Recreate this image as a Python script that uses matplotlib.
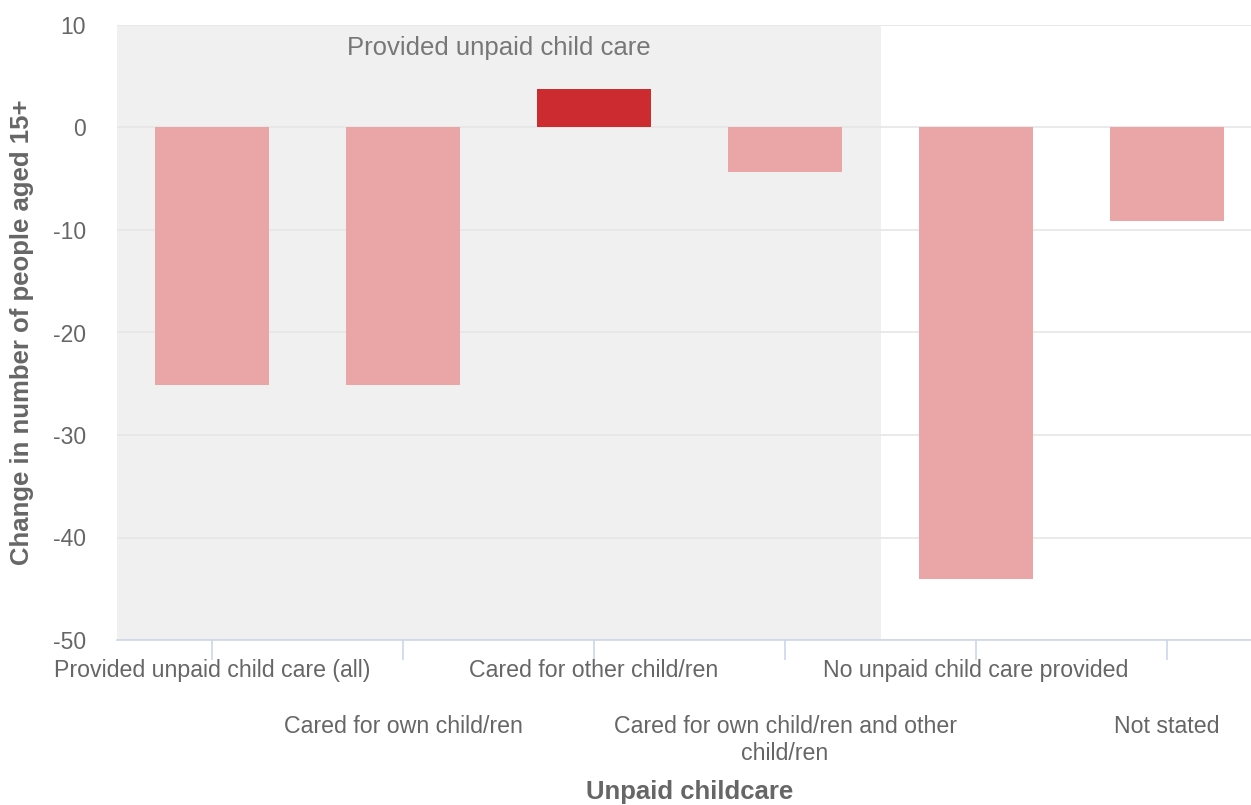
import matplotlib
matplotlib.use("Agg")
import matplotlib.pyplot as plt
import numpy as np

categories = [
    "Provided unpaid child care (all)",
    "Cared for own child/ren",
    "Cared for other child/ren",
    "Cared for own child/ren and other\nchild/ren",
    "No unpaid child care provided",
    "Not stated",
]
values = [-25.1, -25.1, 3.8, -4.3, -44.0, -9.1]
band_label = "Provided unpaid child care"
y_ticks = [10, 0, -10, -20, -30, -40, -50]

plt.rcParams['font.family'] = ['Liberation Sans', 'DejaVu Sans']
W, H = 1251, 805
fig = plt.figure(figsize=(W / 100, H / 100), dpi=100)
left_px, right_px, top_px, bottom_px = 116.5, 1262.5, 25, 640
ax = fig.add_axes([left_px / W, (H - bottom_px) / H,
                   (right_px - left_px) / W, (bottom_px - top_px) / H])

x = np.arange(len(categories))
colors = ['#CC2C30' if v > 0 else '#EAA5A7' for v in values]

ax.set_xlim(-0.5, len(categories) - 0.5)
ax.set_ylim(-50, 10)

ax.axvspan(-0.5, 3.5, color='#F0F0F0', zorder=0, lw=0)
for t in y_ticks:
    ax.axhline(t, color='#E6E6E6', lw=1.2, zorder=1)
ax.bar(x, values, width=0.6, color=colors, zorder=2, lw=0)

ax.text(1.5, 7.76, band_label, ha='center', va='center', fontsize=18.5, color='#777777')

for s in ['top', 'right', 'left']:
    ax.spines[s].set_visible(False)
ax.spines['bottom'].set_color('#CCD6EB')
ax.spines['bottom'].set_linewidth(1.2)
ax.spines['bottom'].set_zorder(3)

ax.set_yticks(y_ticks)
ax.set_yticklabels([str(t) for t in y_ticks], fontsize=16.5, color='#666666')
ax.tick_params(axis='y', length=0, pad=22)

ax.set_xticks(x)
ax.set_xticklabels([])
ax.tick_params(axis='x', length=14.4, color='#CCD6EB', width=1.2)

def px2data_y(py):
    return 10 - (py - top_px) * 60.0 / (bottom_px - top_px)

for i, c in enumerate(categories):
    if i % 2 == 0:
        ax.text(i, px2data_y(670), c, ha='center', va='center',
                fontsize=16.7, color='#666666', clip_on=False)
    else:
        ax.text(i, px2data_y(715), c, ha='center', va='top',
                fontsize=16.7, color='#666666', clip_on=False, linespacing=1.22)

fig.text(22 / W, 1 - 332 / H, "Change in number of people aged 15+", rotation=90,
         ha='center', va='center', fontsize=18.5, fontweight='bold', color='#666666')
fig.text(689.5 / W, 1 - 792 / H, "Unpaid childcare", ha='center', va='center',
         fontsize=18.5, fontweight='bold', color='#666666')

fig.savefig("out.png", dpi=100)
